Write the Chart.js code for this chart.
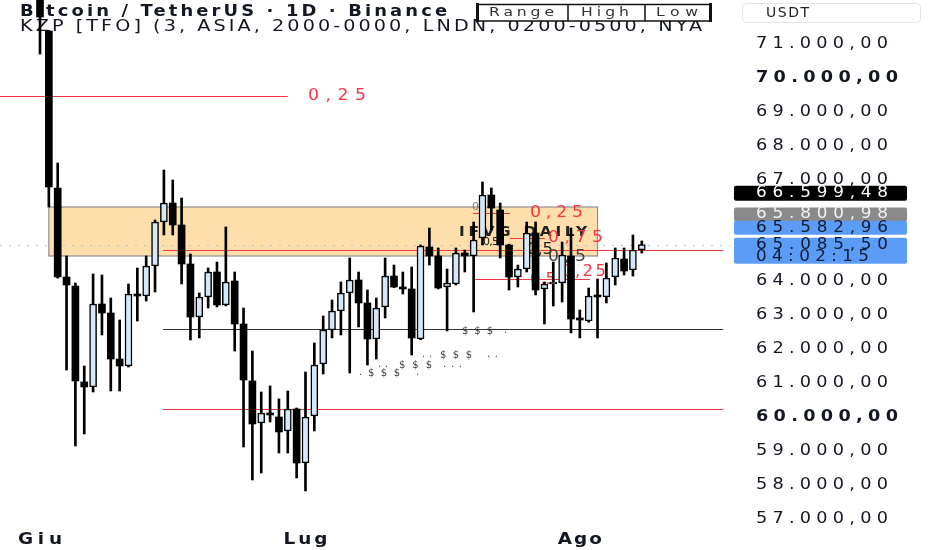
<!DOCTYPE html>
<html><head><meta charset="utf-8">
<script src="https://cdn.jsdelivr.net/npm/chart.js@4"></script>
<style>html,body{margin:0;padding:0;background:#fff;}#wrap{width:932px;height:550px;position:relative;}</style>
</head><body><div id="wrap"><canvas id="c" width="932" height="550"></canvas></div>
<script>
// ---- data ----
const monthNames = ['Giu', 'Lug', 'Ago'];
const monthDays = [30, 31, 8];
const dates = [];
monthNames.forEach((m, k) => { for (let d = 1; d <= monthDays[k]; d++) dates.push(d + ' ' + m); });

const opens = [72700,71380,66756,64133,63868,61039,60891,63337,63072,61716,
61510,63632,63573,64457,65754,66314,65666,64516,62954,63544,
64280,63308,64015,62748,61068,59830,60125,60007,59595,60243,
58651,60036,61569,62571,63131,63662,64045,63367,62306,63249,
64162,63838,63780,62306,65017,64752,63838,63927,64840,64752,
65283,66549,66107,65076,64133,64369,65430,63780,63927,63956,
64752,62895,62836,63573,63544,64133,64663,64339,64929];
const highs = [72900,71400,67493,64752,63956,61510,64221,64192,63514,62866,
63927,64398,64752,65813,67286,66992,66461,64811,63662,64398,
64575,65607,64280,63219,61951,60744,60921,60538,60773,60272,
61333,62188,62984,63455,63986,64693,64280,63750,63514,64693,
64486,64280,64428,65076,65577,64988,64369,64988,64929,65754,
66933,66756,66314,65100,64486,65754,65754,63986,64575,65164,
65577,63160,63809,64074,64545,64988,64988,65371,65194];
const lows = [70705,66196,64100,61392,59152,59506,60744,62424,60773,60773,
61480,62836,63426,63691,65371,65371,63927,62277,62336,63219,
63250,63280,61951,59123,58150,58356,59860,58946,58946,58209,
57826,59595,61274,62336,62424,61304,62660,61539,61716,62925,
63820,63632,61834,62280,64486,63780,62542,63897,64280,63102,
65076,65518,64693,63750,63838,64280,63603,62748,63278,63396,
62483,62336,62800,62336,63367,63897,64192,64162,64840];
const closes = [71796,66785,64133,63897,61068,60891,63337,63072,61716,61510,
63632,63573,64457,65754,66314,65666,64516,62954,63544,64280,
63308,63986,62748,61097,59801,60125,60066,59565,60243,58651,
60007,61539,62571,63131,63662,64045,63367,62306,63219,64162,
63838,63780,62336,65046,64752,63809,63956,64840,64752,65223,
66549,66166,65076,64133,64369,65430,63750,63927,63986,64781,
62895,62866,63573,63544,64104,64693,64310,64929,65085];

const monthTickIdx = [0, 30, 61];
const yTicks = [71000,70000,69000,68000,67000,64000,63000,62000,61000,60000,59000,58000,57000];
const boldTicks = [70000, 60000];
const priceTags = [66599.48, 65800.98, 65582.96, 65085.50];
const countdown = '04:02:15';
const zoneTop = 66196, zoneBottom = 64752, zoneStart = 1, zoneEnd = 63;
const topFibLevel = 69467, topFibEnd = 28;
const levelRedHigh = 64929, levelBlack = 62600, levelRedLow = 60243, levelStart = 13.9, levelEnd = 77.2;

// ---- helpers ----
function fmt(v){ const [i,d] = v.toFixed(2).split('.'); return i.replace(/\B(?=(\d{3})+(?!\d))/g,'.') + ',' + d; }
function fitText(ctx, text, x, y, w, font, color, align, stretch){
  stretch = stretch || 1;
  ctx.save();
  ctx.font = font; ctx.letterSpacing = '0px';
  const m = ctx.measureText(text).width * stretch;
  const n = [...text].length;
  const ls = n > 1 ? (w - m) / (n - 1) / stretch : 0;
  ctx.letterSpacing = ls.toFixed(2) + 'px';
  ctx.fillStyle = color; ctx.textBaseline = 'middle'; ctx.textAlign = 'left';
  const sx = align === 'center' ? x - w / 2 : x;
  ctx.translate(sx, y); ctx.scale(stretch, 1);
  ctx.fillText(text, 0, 0);
  ctx.restore();
}
const F = 'DejaVu Sans';
const RED = '#f23645';

const overlay = {
  id: 'overlay',
  beforeDatasetsDraw(chart){
    const {ctx, chartArea:ca, scales:{x, y}} = chart;
    ctx.save();
    // zone box
    const zx1 = x.getPixelForValue(zoneStart), zx2 = x.getPixelForValue(zoneEnd);
    const zy1 = y.getPixelForValue(zoneTop), zy2 = y.getPixelForValue(zoneBottom);
    ctx.fillStyle = '#fedfac';
    ctx.fillRect(zx1, zy1, zx2 - zx1, zy2 - zy1);
    ctx.strokeStyle = '#8f8f8f'; ctx.lineWidth = 1.2;
    ctx.strokeRect(zx1, zy1, zx2 - zx1, zy2 - zy1);
    // dotted current price line
    const py = Math.round(y.getPixelForValue(priceTags[3])) + 0.5;
    ctx.strokeStyle = '#a9c7ea'; ctx.lineWidth = 1; ctx.setLineDash([2, 7]);
    ctx.beginPath(); ctx.moveTo(0, py); ctx.lineTo(ca.right, py); ctx.stroke();
    ctx.setLineDash([]);
    // horizontal levels
    function hline(v, a, b, col){
      const yy = Math.round(y.getPixelForValue(v)) + 0.5;
      ctx.strokeStyle = col; ctx.lineWidth = 1;
      ctx.beginPath(); ctx.moveTo(x.getPixelForValue(a), yy); ctx.lineTo(x.getPixelForValue(b), yy); ctx.stroke();
      return yy;
    }
    const S = 1.15;
    const ty = hline(topFibLevel, x.min, topFibEnd, RED);
    fitText(ctx, '0,25', 308, ty, 58, '15px ' + F, RED, 'left', S);
    hline(levelRedHigh, levelStart, levelEnd, RED);
    hline(levelBlack, levelStart, levelEnd, '#333333');
    hline(levelRedLow, levelStart, levelEnd, RED);
    // small fib lines inside the zone
    ctx.strokeStyle = RED; ctx.lineWidth = 1;
    ctx.beginPath(); ctx.moveTo(473, 213.5); ctx.lineTo(510, 213.5); ctx.stroke();
    ctx.beginPath(); ctx.moveTo(510, 238.5); ctx.lineTo(545, 238.5); ctx.stroke();
    ctx.beginPath(); ctx.moveTo(475, 279.5); ctx.lineTo(590, 279.5); ctx.stroke();
    fitText(ctx, '0', 472, 207, 8, '11px ' + F, '#777');
    fitText(ctx, '0,25', 530, 213, 53, '15px ' + F, RED, 'left', S);
    fitText(ctx, 'IFVG DAILY', 459, 232, 128, 'bold 14px ' + F, '#222', 'left', 1.1);
    fitText(ctx, '0,75', 548, 238, 55, '15px ' + F, RED, 'left', S);
    fitText(ctx, '0,5', 483, 242, 16, '11px ' + F, '#222');
    fitText(ctx, '0,5', 527, 250, 26, '15px ' + F, '#222', 'left', 1.1);
    fitText(ctx, '0,5', 548, 257, 38, '15px ' + F, '#444', 'left', S);
    fitText(ctx, '0,25', 562, 272, 44, '15px ' + F, RED, 'left', 1.1);
    fitText(ctx, '0,5', 530, 280, 26, '15px ' + F, RED, 'left', 1.1);
    // $$$ liquidity marks
    const s = '10px ' + F, sc = '#444';
    fitText(ctx, '$$$', 462, 331, 31, s, sc); fitText(ctx, '.', 504, 330, 2, s, sc);
    fitText(ctx, '. .', 422, 354, 10, s, sc); fitText(ctx, '$$$', 440, 355, 32, s, sc); fitText(ctx, '. .', 487, 354, 11, s, sc);
    fitText(ctx, '. .', 378, 364, 10, s, sc); fitText(ctx, '$$$', 399, 365, 33, s, sc); fitText(ctx, '. . .', 443, 364, 19, s, sc);
    fitText(ctx, '.', 359, 372, 2, s, sc); fitText(ctx, '$$$', 368, 373, 32, s, sc); fitText(ctx, '.', 416, 372, 2, s, sc);
    // header texts
    fitText(ctx, 'Bitcoin / TetherUS \u00b7 1D \u00b7 Binance', 20, 12, 427, 'bold 16px ' + F, '#131722', 'left', 1.12);
    fitText(ctx, 'KZP [TFO] (3, ASIA, 2000-0000, LNDN, 0200-0500, NYA', 20, 27, 682, '16px ' + F, '#131722', 'left', 1.2);
    ctx.restore();
  },
  afterDraw(chart){
    const {ctx, chartArea:ca, scales:{x, y}} = chart;
    ctx.save();
    const S = 1.18;
    // range/high/low box
    ctx.fillStyle = '#fff'; ctx.fillRect(477, 4, 234, 17);
    ctx.strokeStyle = '#111'; ctx.lineWidth = 1.5; ctx.strokeRect(477.5, 4.5, 233, 16.5);
    ctx.fillStyle = '#111'; ctx.fillRect(476, 3, 3, 19); ctx.fillRect(709, 3, 3, 19);
    ctx.beginPath(); ctx.moveTo(568, 4); ctx.lineTo(568, 21); ctx.moveTo(645, 4); ctx.lineTo(645, 21); ctx.stroke();
    fitText(ctx, 'Range', 489, 13, 65, '13px ' + F, '#333', 'left', 1.2);
    fitText(ctx, 'High', 581, 13, 48, '13px ' + F, '#333', 'left', 1.2);
    fitText(ctx, 'Low', 656, 13, 42, '13px ' + F, '#333', 'left', 1.2);
    // USDT box
    ctx.strokeStyle = '#e3e3e3'; ctx.lineWidth = 1;
    ctx.beginPath(); ctx.roundRect(742.5, 3.5, 178, 19, 4); ctx.stroke();
    fitText(ctx, 'USDT', 766, 13, 43, '14px ' + F, '#222', 'left', 1);
    // y tick labels
    yTicks.forEach(v => {
      const yy = y.getPixelForValue(v);
      const b = boldTicks.includes(v);
      fitText(ctx, fmt(v), 756, yy, b ? 142 : 132, (b ? 'bold ' : '') + '15px ' + F, '#131722', 'left', S);
    });
    // price tags
    const tagStyle = [
      {bg:'#000000', fg:'#ffffff', dy:0, h:15},
      {bg:'#8a8a8a', fg:'#f2f2f2', dy:-6, h:14},
      {bg:'#5b9cf6', fg:'#0d1b33', dy:0, h:14},
      {bg:'#5b9cf6', fg:'#0d1b33', dy:0, h:26}
    ];
    priceTags.forEach((v, i) => {
      const st = tagStyle[i];
      const yy = y.getPixelForValue(v) + st.dy;
      const top = i === 3 ? yy - 7 : yy - st.h / 2;
      ctx.fillStyle = st.bg;
      ctx.beginPath(); ctx.roundRect(734, top, 173, st.h, 2); ctx.fill();
      fitText(ctx, fmt(v), 756, yy, 132, '15px ' + F, st.fg, 'left', 1.12);
      if (i === 3) fitText(ctx, countdown, 756, yy + 12, 113, '15px ' + F, st.fg, 'left', 1.12);
    });
    // month labels
    monthTickIdx.forEach((idx, k) => {
      fitText(ctx, monthNames[k], x.getPixelForValue(idx), 540, 44, 'bold 16px ' + F, '#131722', 'center', 1.15);
    });
    ctx.restore();
  }
};

const isUp = i => closes[i] >= opens[i];
const bodyData = dates.map((d, i) => ({x: i, y: [opens[i], closes[i]]}));
const wickData = dates.map((d, i) => ({x: i, y: [lows[i], highs[i]]}));

new Chart(document.getElementById('c').getContext('2d'), {
  type: 'bar',
  data: {
    labels: dates,
    datasets: [
      {label: 'body', data: bodyData, order: 0, grouped: false, barThickness: 7, minBarLength: 2,
       backgroundColor: c => isUp(c.dataIndex) ? '#d6e7f8' : '#000000',
       borderColor: '#000000', borderWidth: c => isUp(c.dataIndex) ? 1.5 : 0, borderSkipped: false},
      {label: 'wick', data: wickData, order: 1, grouped: false, barThickness: 2,
       backgroundColor: '#000000', borderWidth: 0}
    ]
  },
  options: {
    responsive: false, animation: false, events: [],
    layout: {padding: 0},
    plugins: {legend: {display: false}, tooltip: {enabled: false}},
    scales: {
      x: {type: 'linear', min: -4.52, max: 77.97, offset: false,
          grid: {display: false}, border: {display: false}, ticks: {display: false},
          afterFit(s){ s.height = 20; }},
      y: {position: 'right', min: 56676, max: 72297,
          grid: {display: false}, border: {display: false}, ticks: {display: false},
          afterFit(s){ s.width = 202; }}
    }
  },
  plugins: [overlay]
});
</script></body></html>
